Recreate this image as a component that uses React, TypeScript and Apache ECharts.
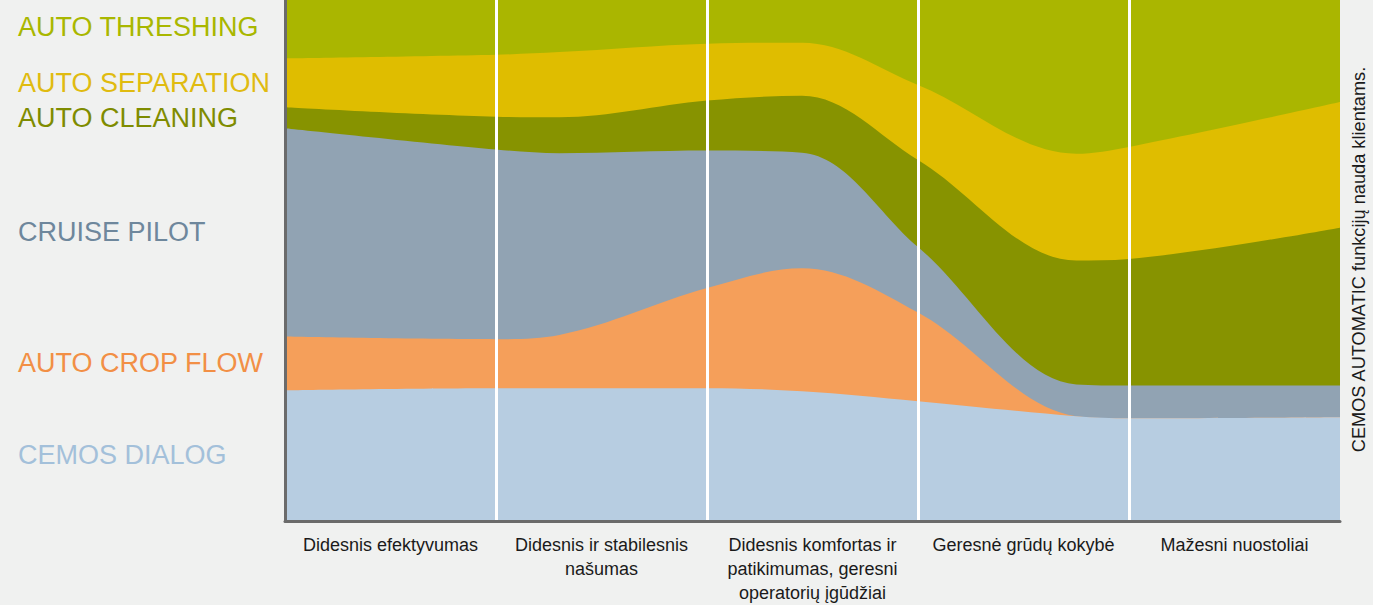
import React, { useEffect, useRef } from "react";
import * as echarts from "echarts";

// Category labels (bottom axis)
const categories = [
  "Didesnis efektyvumas",
  "Didesnis ir stabilesnis\nnašumas",
  "Didesnis komfortas ir\npatikimumas, geresni\noperatorių įgūdžiai",
  "Geresnė grūdų kokybė",
  "Mažesni nuostoliai",
];

// Positions along the x scale (0..5, one unit per category band)
const xPoints = [0, 1, 1.3, 2, 2.45, 3, 3.75, 4, 5];

// Stacked shares (bottom to top)
const cemosDialog = [25.1, 25.5, 25.5, 25.5, 24.9, 23.0, 20.1, 19.7, 19.9];
const autoCropFlow = [10.3, 9.4, 10.2, 19.2, 23.6, 17.0, 0, 0, 0];
const cruisePilot = [40.0, 36.4, 34.9, 26.4, 22.2, 12.6, 6.1, 6.3, 6.1];
const autoCleaning = [4.0, 6.3, 6.9, 9.6, 10.9, 16.7, 23.8, 24.3, 30.3];
const autoSeparation = [9.4, 11.9, 12.5, 10.9, 10.2, 14.4, 20.5, 21.5, 24.1];
const autoThreshing = [11.5, 10.8, 10.2, 8.6, 8.4, 16.5, 29.7, 28.4, 19.8];

const seriesNames = [
  "CEMOS DIALOG",
  "AUTO CROP FLOW",
  "CRUISE PILOT",
  "AUTO CLEANING",
  "AUTO SEPARATION",
  "AUTO THRESHING",
];
const seriesValues = [cemosDialog, autoCropFlow, cruisePilot, autoCleaning, autoSeparation, autoThreshing];
const areaColors = ["#b7cde1", "#f59f5a", "#91a3b3", "#879300", "#dfbd00", "#aab600"];
const labelColors = ["#a3c0da", "#f28f45", "#6e879c", "#7f8c00", "#e0bb10", "#a9b700"];
const labelCenters = [454, 362, 231, 117, 82, 26];

const sideTitle = "CEMOS AUTOMATIC funkcijų nauda klientams.";

export default function App() {
  const ref = useRef<HTMLDivElement>(null);

  useEffect(() => {
    if (!ref.current) return;
    const chart = echarts.init(ref.current, null, { renderer: "svg" });

    // cumulative tops of each layer (manual stacking)
    const cumulative: number[][] = [];
    seriesValues.forEach((vals, i) => {
      cumulative.push(vals.map((v, j) => (i > 0 ? cumulative[i - 1][j] : 0) + v));
    });

    // draw from top layer down so each lower layer paints over the one above
    const order = seriesNames.map((_, i) => seriesNames.length - 1 - i);
    const series: any[] = order.map((i) => ({
      name: seriesNames[i],
      type: "line",
      smooth: 0.35,
      showSymbol: false,
      symbol: "none",
      lineStyle: { width: 0 },
      areaStyle: { color: areaColors[i], opacity: 1 },
      itemStyle: { color: areaColors[i] },
      data: xPoints.map((x, j) => [x, cumulative[i][j]]),
      z: 2,
    }));

    series.push({
      name: "dividers",
      type: "line",
      data: [],
      z: 5,
      markLine: {
        silent: true,
        symbol: "none",
        label: { show: false },
        lineStyle: { color: "#ffffff", width: 3, type: "solid" },
        data: [1, 2, 3, 4].map((v) => ({ xAxis: v })),
      },
    });

    const graphics: any[] = seriesNames.map((name, i) => ({
      type: "text",
      left: 18,
      top: labelCenters[i] - 13,
      style: {
        text: name,
        fill: labelColors[i],
        font: "27px 'Liberation Sans', Arial, sans-serif",
        textVerticalAlign: "top",
      },
    }));
    graphics.push({
      type: "text",
      x: 1359,
      y: 259.5,
      rotation: Math.PI / 2,
      style: {
        text: sideTitle,
        fill: "#1a1a1a",
        font: "18.2px 'Liberation Sans', Arial, sans-serif",
        align: "center",
        verticalAlign: "middle",
      },
    });

    chart.setOption({
      animation: false,
      backgroundColor: "#f0f1f0",
      grid: { left: 285, right: 33, top: 0, bottom: 83, containLabel: false },
      xAxis: [
        {
          type: "value",
          min: 0,
          max: 5,
          interval: 1,
          show: false,
        },
        {
          type: "category",
          data: categories,
          boundaryGap: true,
          position: "bottom",
          z: 10,
          axisLine: { show: true, lineStyle: { color: "#6b6b6b", width: 3 } },
          axisTick: { show: false },
          splitLine: { show: false },
          axisLabel: {
            color: "#1a1a1a",
            fontSize: 18,
            fontFamily: "'Liberation Sans', Arial, sans-serif",
            lineHeight: 24,
            margin: 12,
            interval: 0,
          },
        },
      ],
      yAxis: {
        type: "value",
        min: 0,
        max: 100,
        z: 10,
        axisLine: { show: true, lineStyle: { color: "#6b6b6b", width: 3 } },
        axisTick: { show: false },
        axisLabel: { show: false },
        splitLine: { show: false },
      },
      graphic: graphics,
      series,
    });

    return () => chart.dispose();
  }, []);

  return (
    <div
      ref={ref}
      style={{ position: "absolute", left: 0, top: 0, width: 1373, height: 605 }}
    />
  );
}
